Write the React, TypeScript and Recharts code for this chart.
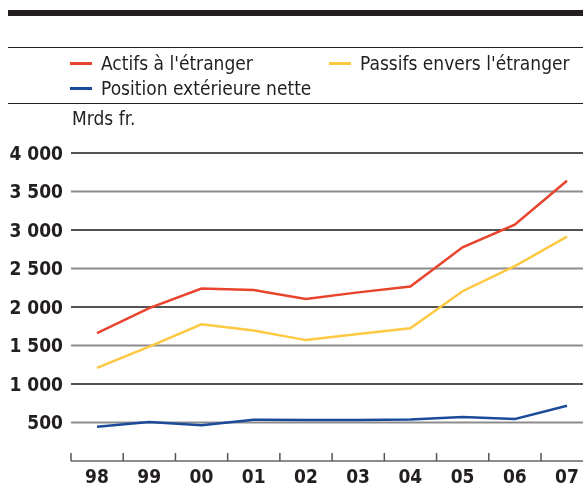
import { LineChart, Line, XAxis, YAxis, ReferenceLine } from 'recharts';

const years = ['98', '99', '00', '01', '02', '03', '04', '05', '06', '07'];
const actifs = [1660, 1985, 2240, 2220, 2105, 2190, 2265, 2775, 3070, 3640];
const passifs = [1210, 1485, 1775, 1695, 1570, 1650, 1725, 2205, 2530, 2915];
const position = [445, 508, 465, 535, 532, 532, 540, 570, 545, 717];
const yTicks = [500, 1000, 1500, 2000, 2500, 3000, 3500, 4000];

const RED = '#e8432c';
const YELLOW = '#fdc842';
const BLUE = '#1a4b9b';
const INK = '#231f20';
const FONT = '"DejaVu Sans Condensed", "DejaVu Sans", sans-serif';
const HALF = 26; // half category step, where the tick marks sit

const data = years.map((year, i) => ({
  year,
  actifs: actifs[i],
  passifs: passifs[i],
  position: position[i],
}));

const fmt = (v: number) =>
  v >= 1000 ? `${Math.floor(v / 1000)} ${String(v % 1000).padStart(3, '0')}` : String(v);

const YTick = ({ x, y, payload }: any) => (
  <text x={x} y={y} dy="0.36em" textAnchor="end" fontFamily={FONT} fontWeight="bold" fontSize={19} fill={INK}>
    {fmt(payload.value)}
  </text>
);

const XTick = ({ x, y, payload }: any) => (
  <g>
    <line x1={x - HALF} x2={x - HALF} y1={y - 8} y2={y} stroke="#555" strokeWidth={1.5} />
    <text x={x} y={y + 15} dy="0.36em" textAnchor="middle" fontFamily={FONT} fontWeight="bold" fontSize={19} fill={INK}>
      {payload.value}
    </text>
  </g>
);

const LegendItem = ({ color, label, left, top }: { color: string; label: string; left: number; top: number }) => (
  <div style={{ position: 'absolute', left, top, display: 'flex', alignItems: 'center', whiteSpace: 'nowrap' }}>
    <div style={{ width: 22, height: 3, background: color, marginRight: 9 }} />
    <span style={{ fontFamily: FONT, fontSize: 19, color: INK, lineHeight: '20px' }}>{label}</span>
  </div>
);

export default function App() {
  return (
    <div style={{ position: 'fixed', left: 8, top: 8, width: 575, height: 478, overflow: 'hidden' }}>
      <div style={{ position: 'absolute', left: 0, top: 2, width: 575, height: 6, background: INK }} />
      <div style={{ position: 'absolute', left: 0, top: 39, width: 575, height: 1, background: INK }} />
      <LegendItem color={RED} label="Actifs à l'étranger" left={62} top={45} />
      <LegendItem color={YELLOW} label="Passifs envers l'étranger" left={321} top={45} />
      <LegendItem color={BLUE} label="Position extérieure nette" left={62} top={70} />
      <div style={{ position: 'absolute', left: 0, top: 95, width: 575, height: 1, background: INK }} />
      <div style={{ position: 'absolute', left: 64, top: 100, fontFamily: FONT, fontSize: 19, color: INK, lineHeight: '20px' }}>
        Mrds fr.
      </div>
      <div style={{ position: 'absolute', left: 0, top: 0 }}>
        <LineChart width={600} height={478} data={data} margin={{ top: 145, right: 15, bottom: 0, left: 0 }}>
          {yTicks.map((v) => (
            <ReferenceLine
              key={v}
              y={v}
              stroke={v % 1000 === 0 ? '#1a1a1a' : '#8c8c8c'}
              strokeWidth={v % 1000 === 0 ? 1.5 : 2.2}
            />
          ))}
          <XAxis
            dataKey="year"
            height={25}
            padding={{ left: HALF, right: HALF }}
            axisLine={{ stroke: '#8c8c8c', strokeWidth: 2 }}
            tickLine={false}
            tickSize={0}
            tickMargin={0}
            tick={<XTick />}
            interval={0}
          />
          <YAxis
            width={63}
            domain={[0, 4000]}
            ticks={yTicks}
            axisLine={false}
            tickLine={false}
            tickSize={0}
            tickMargin={8}
            tick={<YTick />}
          />
          <Line type="linear" dataKey="position" stroke={BLUE} strokeWidth={2.5} dot={false} isAnimationActive={false} />
          <Line type="linear" dataKey="passifs" stroke={YELLOW} strokeWidth={2.5} dot={false} isAnimationActive={false} />
          <Line type="linear" dataKey="actifs" stroke={RED} strokeWidth={2.5} dot={false} isAnimationActive={false} />
        </LineChart>
      </div>
    </div>
  );
}
